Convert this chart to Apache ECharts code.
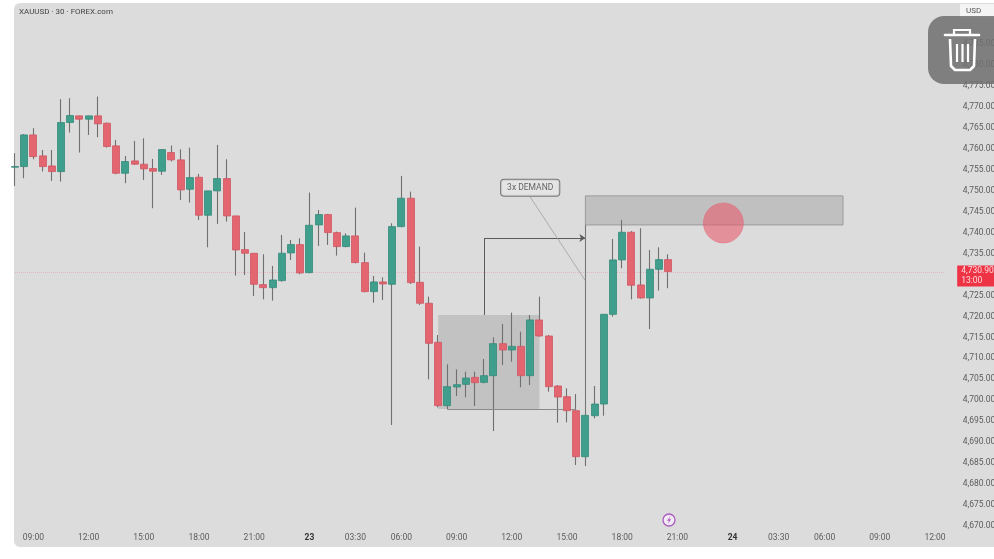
<!DOCTYPE html>
<html><head><meta charset="utf-8">
<style>html,body{margin:0;padding:0;background:#fff}#c{width:994px;height:559px}</style>
<script src="https://cdn.jsdelivr.net/npm/echarts@6/dist/echarts.min.js"></script>
</head><body><div id="c"></div>
<script>
const opens=[4755.6,4755.75,4763.3,4758.3,4755.9,4754.56,4766.26,4767.85,4767.05,4767.85,4766.1,4760.69,4754.16,4757.1,4756.31,4755.28,4754.64,4759.1,4757.35,4750.34,4753.21,4744.14,4749.95,4752.89,4743.98,4735.94,4735.07,4727.59,4726.87,4728.54,4735.15,4737.14,4730.45,4741.83,4744.3,4740.0,4736.66,4739.21,4732.84,4725.92,4728.23,4727.67,4741.43,4748.2,4728.15,4723.14,4713.83,4698.71,4703.17,4703.8,4705.47,4704.28,4705.87,4713.51,4712.0,4712.87,4705.87,4719.16,4715.34,4703.41,4700.86,4697.52,4686.54,4696.32,4699.11,4720.51,4733.48,4740.08,4727.51,4724.41,4731.25,4733.56];
const closes=[4755.75,4763.3,4758.14,4755.75,4754.56,4766.26,4767.93,4767.05,4767.85,4765.94,4760.53,4754.16,4756.95,4756.31,4755.2,4754.64,4759.81,4757.35,4750.19,4753.13,4744.14,4749.95,4752.89,4743.98,4735.86,4735.07,4727.67,4726.87,4728.7,4735.07,4737.14,4730.37,4741.75,4744.3,4740.0,4736.66,4739.21,4732.84,4725.92,4728.23,4727.75,4741.43,4748.2,4728.07,4723.14,4713.59,4698.71,4703.25,4703.72,4705.31,4704.2,4705.87,4713.51,4712.0,4712.87,4705.87,4719.16,4715.34,4703.25,4700.78,4697.52,4686.54,4696.4,4699.11,4720.51,4733.48,4740.08,4727.43,4724.41,4731.25,4733.56,4730.7];
const highs=[4758.94,4763.5,4764.9,4759.7,4759.7,4771.83,4772.06,4767.85,4767.85,4772.46,4766.26,4762.12,4758.3,4761.88,4762.5,4757.58,4759.81,4760.77,4759.89,4760.29,4754.0,4749.95,4760.93,4757.5,4743.98,4740.16,4735.07,4734.83,4732.05,4739.44,4738.25,4738.65,4749.55,4745.41,4744.46,4740.24,4739.84,4745.97,4735.23,4729.66,4729.34,4742.23,4753.53,4749.79,4736.66,4724.73,4715.58,4708.58,4707.38,4706.83,4706.83,4709.85,4715.02,4718.2,4720.91,4716.37,4720.35,4724.73,4715.58,4703.64,4702.85,4701.5,4696.88,4703.41,4720.51,4738.49,4743.03,4740.4,4741.04,4735.87,4736.5,4734.83];
const lows=[4751.14,4752.97,4757.5,4754.56,4752.33,4752.17,4763.87,4759.1,4763.3,4762.76,4760.29,4753.92,4751.78,4756.15,4752.57,4745.81,4753.77,4756.95,4747.8,4747.16,4743.0,4736.5,4742.07,4742.63,4729.74,4729.9,4724.88,4724.09,4723.77,4728.3,4733.48,4730.06,4730.3,4736.82,4737.06,4734.51,4736.5,4732.68,4725.76,4723.29,4723.93,4694.1,4741.28,4727.75,4722.74,4704.99,4698.31,4697.84,4701.02,4700.7,4698.63,4704.04,4692.66,4708.42,4709.21,4703.09,4703.64,4715.18,4702.05,4694.65,4694.73,4684.55,4684.31,4695.69,4696.32,4719.95,4731.49,4724.09,4724.25,4717.01,4726.16,4726.72];
const slotCount=102;
const tickSlots=[2,8,14,20,26,32,37,42,48,54,60,66,72,78,83,88,94,100];
const tickLabels=['09:00','12:00','15:00','18:00','21:00','23','03:30','06:00','09:00','12:00','15:00','18:00','21:00','24','03:30','06:00','09:00','12:00'];
const categories=Array(slotCount).fill('');
tickSlots.forEach((s,k)=>{categories[s]=tickLabels[k];});
const ohlc=opens.map((o,k)=>[o,closes[k],lows[k],highs[k]]);
const bodies=opens.map((o,k)=>[o,closes[k],Math.min(o,closes[k]),Math.max(o,closes[k])]);
const baseBox=[[46,4720.35],[57,4697.9]];
const targetBox=[[62,4748.76],[90,4741.83]];
const elbowUp=[[51,4720.35],[51,4738.7]];
const elbowAcross=[[51,4738.7],[62,4738.7]];
const moveLine=[[62,4741.83],[62,4696.4]];
const baseLine=[[47,4697.9],[61,4697.9]];
const noteLine=[[56,4748.5],[62,4728.5]];
const notePoint=[[56,4750.67]];
const targetMark=[[77,4742.3]];
const lastPrice=4730.6;
const lastLabel='4,730.90\n13:00';
const ink='#5a5a5a';
const seg=(p,c,w,arrow,type)=>[
 {coord:p[0],symbol:'none',lineStyle:{color:c,width:w,type:type||'solid',opacity:1}},
 {coord:p[1],symbol:arrow?'arrow':'none',symbolSize:arrow?6:0}];
const chart=echarts.init(document.getElementById('c'),null,{renderer:'canvas'});
chart.setOption({
 animation:false,
 backgroundColor:'#ffffff',
 grid:{left:10.4,top:23,width:938.4,height:524,containLabel:false,outerBoundsMode:'none'},
 xAxis:{type:'category',data:categories,boundaryGap:true,
  axisLine:{show:false},axisTick:{show:false},splitLine:{show:false},
  axisLabel:{inside:true,interval:(i,v)=>v!=='',margin:5,color:'#5c5c5c',fontSize:8.5,fontFamily:'Roboto',
   formatter:v=>(v==='23'||v==='24')?'{b|'+v+'}':v,rich:{b:{fontWeight:'bold',color:'#333',fontSize:8.5}}}},
 yAxis:{type:'value',position:'right',min:4665,max:4790,interval:5,scale:true,
  axisLine:{show:false},axisTick:{show:false},splitLine:{show:false},
  axisLabel:{margin:14,color:'#5c5c5c',fontSize:8.5,fontFamily:'Roboto',showMinLabel:false,showMaxLabel:false,
   formatter:v=>v.toLocaleString('en-US',{minimumFractionDigits:2,maximumFractionDigits:2})}},
 graphic:[
  {type:'rect',z:-10,silent:true,shape:{x:14,y:3,width:990,height:544,r:[6,0,0,6]},style:{fill:'#dcdcdc'}},
  {type:'text',z:5,silent:true,style:{x:19,y:8,text:'XAUUSD · 30 · FOREX.com',fill:'#444',font:'8px Roboto'}},
  {type:'rect',z:5,silent:true,shape:{x:960,y:4,width:34,height:14},style:{fill:'#f4f4f4'}},
  {type:'text',z:6,silent:true,style:{x:966,y:7,text:'USD',fill:'#555',font:'8px Roboto'}},
  {type:'circle',z:6,silent:true,shape:{cx:669,cy:520,r:6},style:{fill:'#f3eaf5',stroke:'#a85cc0',lineWidth:1.3}},
  {type:'polygon',z:7,silent:true,shape:{points:[[670.5,516],[667,520.8],[669,520.8],[667.8,524],[671.2,519.2],[669.2,519.2]]},style:{fill:'#a85cc0'}},
  {type:'rect',z:50,silent:true,shape:{x:928,y:16,width:80,height:68,r:16},style:{fill:'rgba(112,112,112,0.86)'}},
  {type:'polyline',z:51,silent:true,shape:{points:[[945,35],[979,35]]},style:{stroke:'#fff',lineWidth:2.6,lineCap:'round',fill:null}},
  {type:'polyline',z:51,silent:true,shape:{points:[[954,34],[954,30],[970,30],[970,34]]},style:{stroke:'#fff',lineWidth:2.2,fill:null}},
  {type:'polyline',z:51,silent:true,shape:{points:[[950,39],[951,66],[955,70],[970,70],[974,66],[975,39]]},style:{stroke:'#fff',lineWidth:2.6,fill:null,lineJoin:'round'}},
  {type:'polyline',z:51,silent:true,shape:{points:[[957,44],[957,62]]},style:{stroke:'#fff',lineWidth:2.2,fill:null}},
  {type:'polyline',z:51,silent:true,shape:{points:[[962.5,44],[962.5,62]]},style:{stroke:'#fff',lineWidth:2.2,fill:null}},
  {type:'polyline',z:51,silent:true,shape:{points:[[968,44],[968,62]]},style:{stroke:'#fff',lineWidth:2.2,fill:null}}
 ],
 series:[
  {type:'candlestick',name:'wicks',data:ohlc,barWidth:1,z:3,silent:true,
   itemStyle:{color:'#707070',color0:'#707070',borderColor:'#707070',borderColor0:'#707070',borderWidth:1.1},
   markArea:{silent:true,z:1,data:[
     [{coord:baseBox[0],itemStyle:{color:'rgba(150,150,150,0.36)'}},{coord:baseBox[1]}],
     [{coord:targetBox[0],itemStyle:{color:'rgba(150,150,150,0.4)',borderColor:'#9a9a9a',borderWidth:1}},{coord:targetBox[1]}]
   ]},
   markLine:{silent:true,z:4,symbol:['none','none'],animation:false,label:{show:false},data:[
     [{coord:[0,lastPrice],symbol:'none',lineStyle:{color:'rgba(236,90,110,0.28)',width:1,type:'dotted'},
       label:{show:true,position:'end',distance:9,offset:[4,4],formatter:lastLabel,color:'#ffd9dd',fontSize:8.5,fontFamily:'Roboto',lineHeight:10,align:'left',
        backgroundColor:'#ee3344',padding:[1,10,0,4]}},
      {coord:[slotCount-1,lastPrice],symbol:'none'}],
     seg(elbowUp,ink,1),
     seg(elbowAcross,ink,1,true),
     seg(moveLine,'#777',1.1),
     seg(baseLine,'#8a8a8a',1.2),
     seg(noteLine,'#a0a0a0',0.8)
   ]}},
  {type:'candlestick',name:'bodies',data:bodies,barWidth:7.5,z:5,silent:true,
   itemStyle:{color:'#3f9e8c',color0:'#e2656f',borderColor:'#348a79',borderColor0:'#cf5763',borderWidth:0.8}},
  {type:'scatter',name:'note',data:notePoint,symbolSize:1,z:8,silent:true,
   itemStyle:{color:'transparent'},
   label:{show:true,position:'inside',formatter:'3x DEMAND',color:'#444',fontSize:8.5,fontFamily:'Roboto',
    backgroundColor:'#e6e6e6',borderColor:'#5e5e5e',borderWidth:1,borderRadius:3,padding:[4,6,3,6]}},
  {type:'scatter',name:'target',data:targetMark,symbolSize:40,z:9,silent:true,
   itemStyle:{color:'rgba(232,88,108,0.72)',borderColor:'rgba(232,88,108,0.5)',borderWidth:1}}
 ]
});
</script></body></html>
